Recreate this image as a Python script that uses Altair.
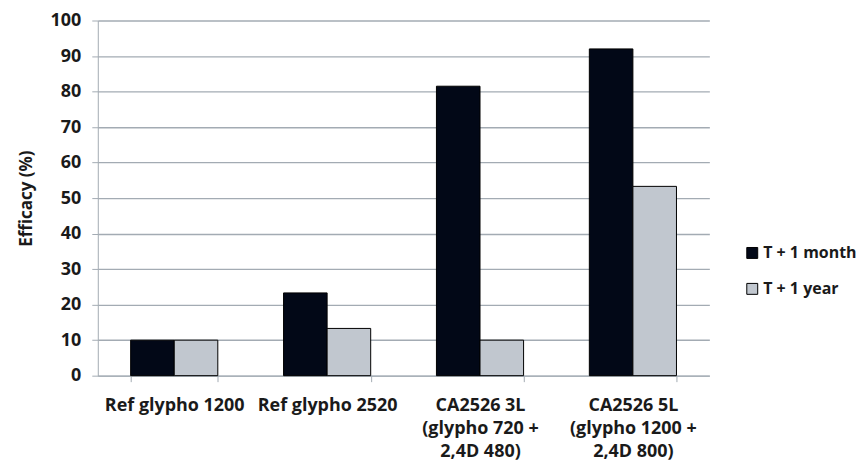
import altair as alt
import pandas as pd

categories = ["Ref glypho 1200", "Ref glypho 2520",
              "CA2526 3L|(glypho 720 +|2,4D 480)",
              "CA2526 5L|(glypho 1200 +|2,4D 800)"]
series = ["T + 1 month", "T + 1 year"]
month_vals = [10, 23.3, 81.5, 92]
year_vals = [10, 13.3, 10, 53.3]
y_ticks = [0, 10, 20, 30, 40, 50, 60, 70, 80, 90, 100]

rows = []
for c, m, y in zip(categories, month_vals, year_vals):
    rows.append({"cat": c, "series": series[0], "val": m})
    rows.append({"cat": c, "series": series[1], "val": y})
df = pd.DataFrame(rows)

FONT = "Open Sans"
GRID = "#a3abb3"
TXT = "#1a1a1a"

chart = alt.Chart(df).mark_bar(stroke="#000000", strokeWidth=1).encode(
    x=alt.X("cat:N", sort=categories, title=None,
            scale=alt.Scale(paddingInner=0.43, paddingOuter=0.215),
            axis=alt.Axis(labelExpr="split(datum.label, '|')", labelAngle=0,
                          tickBand="extent", tickSize=6, tickColor=GRID,
                          domainColor=GRID, labelFont=FONT, labelFontSize=18,
                          labelFontWeight="bold", labelColor=TXT,
                          labelPadding=15, labelLineHeight=23,
                          labelBaseline="top", labelLimit=300)),
    xOffset=alt.XOffset("series:N", sort=series),
    y=alt.Y("val:Q", title="Efficacy (%)",
            scale=alt.Scale(domain=[0, 100], nice=False),
            axis=alt.Axis(values=y_ticks, tickSize=6, tickColor=GRID,
                          domainColor=GRID, gridColor=GRID, gridWidth=1.3,
                          labelFont=FONT, labelFontSize=18, labelFontWeight="bold",
                          labelColor=TXT, labelPadding=11,
                          titleFont=FONT, titleFontSize=17, titleFontWeight="bold",
                          titleColor=TXT, titlePadding=15)),
    color=alt.Color("series:N", sort=series, title=None,
                    scale=alt.Scale(domain=series, range=["#020817", "#c1c7cf"]),
                    legend=alt.Legend(orient="none", legendX=648, legendY=225,
                                      symbolType="square", symbolSize=120,
                                      symbolStrokeColor="#000000", symbolStrokeWidth=1,
                                      labelFont=FONT, labelFontSize=16,
                                      labelFontWeight="bold", labelColor=TXT,
                                      rowPadding=20, labelOffset=3, padding=0)),
).properties(
    width=613, height=356,
    padding={"left": 9, "top": 3, "right": 0, "bottom": 0},
).configure_view(stroke=None).configure_axis(grid=True).configure_axisX(grid=False)

chart.save("out.html", embed_options={"renderer": "svg", "actions": False})
